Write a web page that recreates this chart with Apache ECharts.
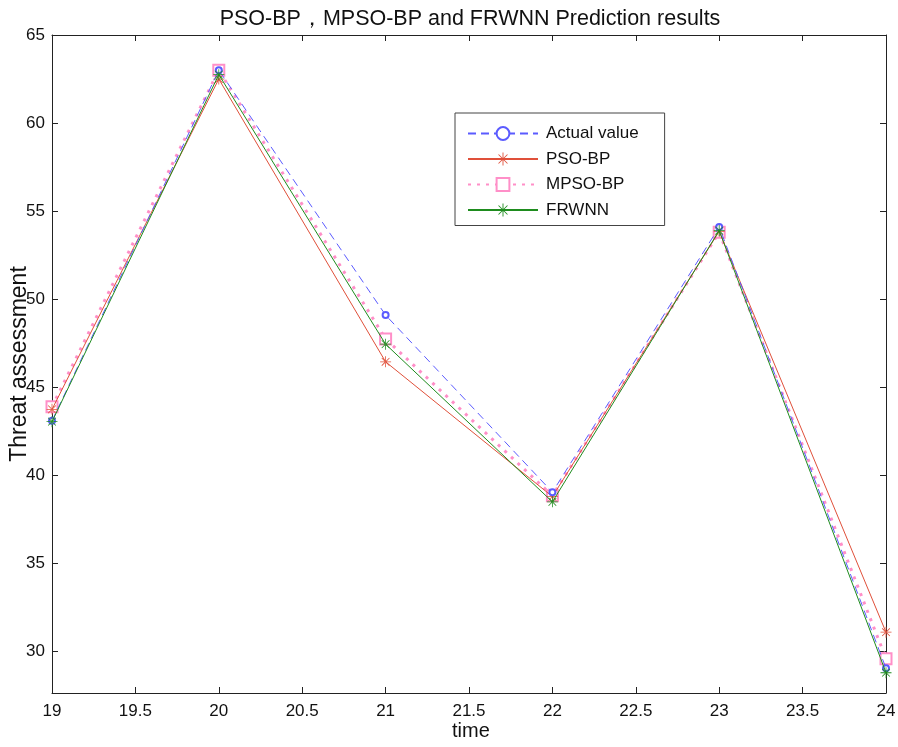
<!DOCTYPE html>
<html><head><meta charset="utf-8">
<script src="https://cdn.jsdelivr.net/npm/echarts@6/dist/echarts.min.js"></script>
<style>html,body{margin:0;padding:0;background:#fff}#c{width:898px;height:747px}</style>
</head><body><div id="c"></div>
<script>
var times = [19, 20, 21, 22, 23, 24];
var actualValue = [43.1, 63.0, 49.1, 39.05, 54.1, 29.05];
var psoBP = [43.75, 62.5, 46.45, 38.8, 53.85, 31.1];
var mpsoBP = [43.9, 63.0, 47.75, 38.85, 53.8, 29.6];
var frwnn = [43.05, 62.75, 47.45, 38.5, 53.9, 28.8];
var yTicks = [30, 35, 40, 45, 50, 55, 60, 65];

function pairs(v){ return times.map(function(t,i){ return [t, v[i]]; }); }
var star = 'path://M-0.7 -10 L0.7 -10 L0.7 10 L-0.7 10 Z M-10 -0.7 L-10 0.7 L10 0.7 L10 -0.7 Z ' +
  'M-7.5 -6.5 L6.5 7.5 L7.5 6.5 L-6.5 -7.5 Z M-7.5 6.5 L-6.5 7.5 L7.5 -6.5 L6.5 -7.5 Z';
var font = 'Liberation Sans, Arial, sans-serif';
var chart = echarts.init(document.getElementById('c'), null, {renderer:'canvas'});
var yMin = 27.65, yMax = 65;
chart.setOption({
  animation:false,
  backgroundColor:'#fff',
  title:{text:'PSO-BP，MPSO-BP and FRWNN Prediction results', left:465, textAlign:'center', top:3,
    textStyle:{fontFamily:font, fontSize:21.5, fontWeight:'normal', color:'#111'}},
  grid:{left:52, right:12, top:35, bottom:54, containLabel:false, outerBoundsMode:'none'},
  legend:{orient:'vertical', left:455, top:113, padding:[12,26,7,12],
    backgroundColor:'#fff', borderColor:'#444', borderWidth:1, itemWidth:70, itemHeight:16, itemGap:8.5,
    textStyle:{fontFamily:font, fontSize:17, color:'#111', lineHeight:16, padding:[0,0,0,3]},
    data:['Actual value','PSO-BP','MPSO-BP','FRWNN']},
  xAxis:[{type:'value', min:19, max:24, interval:0.5,
    axisLine:{lineStyle:{color:'#222'}}, splitLine:{show:false},
    axisTick:{inside:true, length:6, lineStyle:{color:'#222'}},
    axisLabel:{fontFamily:font, fontSize:17, color:'#111', margin:10}},
    {type:'value', position:'top', min:19, max:24, interval:0.5,
    axisLine:{lineStyle:{color:'#222'}}, splitLine:{show:false},
    axisTick:{inside:true, length:6, lineStyle:{color:'#222'}}, axisLabel:{show:false}}],
  yAxis:[{type:'value', min:yMin, max:yMax,
    name:'Threat assessment', nameLocation:'middle', nameGap:21, nameMoveOverlap:false,
    nameTextStyle:{fontFamily:font, fontSize:23, color:'#111'},
    axisLine:{show:true, lineStyle:{color:'#222'}}, splitLine:{show:false},
    axisTick:{inside:true, length:6, customValues:yTicks, lineStyle:{color:'#222'}},
    axisLabel:{fontFamily:font, fontSize:17, color:'#111', margin:7, customValues:yTicks}},
    {type:'value', position:'right', min:yMin, max:yMax,
    axisLine:{show:true, lineStyle:{color:'#222'}}, splitLine:{show:false},
    axisTick:{inside:true, length:6, customValues:yTicks, lineStyle:{color:'#222'}},
    axisLabel:{show:false, customValues:yTicks}}],
  graphic:[{type:'text', left:452, top:721, style:{text:'time', font:'20px Liberation Sans, Arial, sans-serif', fill:'#111'}}],
  series:[
    {name:'Actual value', type:'line', data:pairs(actualValue), symbol:'emptyCircle', symbolSize:6,
      lineStyle:{color:'#5b5bff', width:1, type:[8,5]}, itemStyle:{color:'#5b5bff', borderWidth:1}, z:5},
    {name:'PSO-BP', type:'line', data:pairs(psoBP), symbol:star, symbolSize:11,
      lineStyle:{color:'#e0503a', width:1}, itemStyle:{color:'#e0503a', borderWidth:0}, z:4},
    {name:'MPSO-BP', type:'line', data:pairs(mpsoBP), symbol:'emptyRect', symbolSize:11,
      lineStyle:{color:'#ff8fc8', width:3, type:[3,6]}, itemStyle:{color:'#ff8fc8', borderWidth:3}, z:3},
    {name:'FRWNN', type:'line', data:pairs(frwnn), symbol:star, symbolSize:11,
      lineStyle:{color:'#1e8c1e', width:1}, itemStyle:{color:'#1e8c1e', borderWidth:0}, z:6}
  ]
});
</script></body></html>
